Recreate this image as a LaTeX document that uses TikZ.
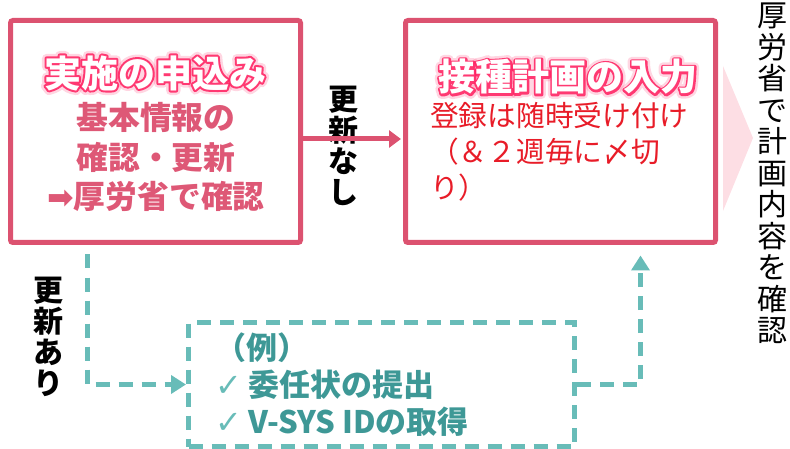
\documentclass[tikz,border=0pt]{standalone}
\usepackage{fontspec}
\setmainfont{Noto Sans CJK JP}
\newfontfamily\symfont{DejaVu Sans}
\usetikzlibrary{arrows.meta}

\definecolor{boxpink}{RGB}{220,82,112}
\definecolor{txtpink}{RGB}{222,88,118}
\definecolor{glowpink}{RGB}{255,30,95}
\definecolor{planred}{RGB}{232,28,40}
\definecolor{dashteal}{RGB}{104,188,184}
\definecolor{tealtext}{RGB}{62,152,150}
\definecolor{palepink}{RGB}{253,222,228}

% text drawn as a stroked outline of given width
\newcommand{\glowstroke}[2]{\special{pdf:literal direct 1 j #1 w 1 Tr}#2\special{pdf:literal direct 0 Tr}}

\begin{document}
\begin{tikzpicture}[x=1pt,y=-1pt,
	pinkbox/.style={draw=boxpink, line width=5pt, rounded corners=2.5pt, inner sep=0pt},
	dashbox/.style={draw=dashteal, line width=5pt, dash pattern=on 14pt off 9pt, inner sep=0pt},
	flow/.style={boxpink, line width=5pt, -{Triangle[length=12pt,width=17pt]}},
	dashflow/.style={dashteal, line width=5pt, dash pattern=on 14pt off 9pt, -{Triangle[length=15pt,width=18pt]}},
	title/.style={font=\bfseries\fontsize{37}{37}\selectfont, text=white, inner sep=0pt},
	glow/.style={font=\bfseries\fontsize{37}{37}\selectfont, text=glowpink, inner sep=0pt},
	vlabel/.style={font=\bfseries\fontsize{30}{31}\selectfont, align=center, inner sep=0pt}]
	\useasboundingbox (0,0) rectangle (790,449);
	
	\node[pinkbox, minimum width=290pt, minimum height=222pt] (apply) at (155.5,131.5) {};
	\node[pinkbox, minimum width=310pt, minimum height=222pt] (plan) at (560.5,131.5) {};
	\node[dashbox, minimum width=386pt, minimum height=124pt] (docs) at (381.5,384.5) {};
	
	\fill[palepink] (723,66) -- (753,138) -- (723,211) -- cycle;
	
	% glowing titles
	\node[glow, opacity=.18] (applyhalo) at (155,73) {\glowstroke{9}{実施の申込み}};
	\node[glow, opacity=.85] (applyrim) at (155,73) {\glowstroke{4}{実施の申込み}};
	\node[title] (applytitle) at (155,73) {実施の申込み};
	\node[glow, opacity=.18] (planhalo) at (568,77) {\glowstroke{9}{接種計画の入力}};
	\node[glow, opacity=.85] (planrim) at (568,77) {\glowstroke{4}{接種計画の入力}};
	\node[title] (plantitle) at (568,77) {接種計画の入力};
	
	\node[font=\bfseries\fontsize{31.8}{39.5}\selectfont, text=txtpink, align=center, inner sep=0pt] (applytext) at (156,157)
	{基本情報の\\確認・更新\\{\symfont ➡}厚労省で確認};
	\node[font=\fontsize{28.7}{36}\selectfont, text=planred, align=left, anchor=west, inner sep=0pt] (plantext) at (430,152)
	{登録は随時受け付け\\（＆２週毎に〆切\\り）};
	\node[font=\bfseries\fontsize{31}{37}\selectfont, text=tealtext, align=left, anchor=west, inner sep=0pt] (docstext) at (215,385)
	{（例）\\{\mdseries\symfont\fontsize{32}{32}\selectfont\color{dashteal}✓}\hspace{6pt}委任状の提出\\{\mdseries\symfont\fontsize{32}{32}\selectfont\color{dashteal}✓}\hspace{6pt}V-SYS IDの取得};
	
	\node[vlabel] (nochange) at (343,146) {更\\新\\な\\し};
	\node[vlabel] (change) at (48,337) {更\\新\\あ\\り};
	\node[font=\fontsize{30}{31.5}\selectfont, align=center, inner sep=0pt] (check) at (772,173.5)
	{厚\\労\\省\\で\\計\\画\\内\\容\\を\\確\\認};
	
	\draw[flow, shorten >=2pt] ([yshift=-7.5pt]apply.east) -- ([yshift=-7.5pt]plan.west);
	\draw[dashflow, shorten <=9.5pt] ([xshift=79.5pt]apply.south west) |- (docs.west);
	\draw[dashflow, shorten >=10.5pt] (docs.east) -| ([xshift=237.5pt]plan.south west);
\end{tikzpicture}
\end{document}
